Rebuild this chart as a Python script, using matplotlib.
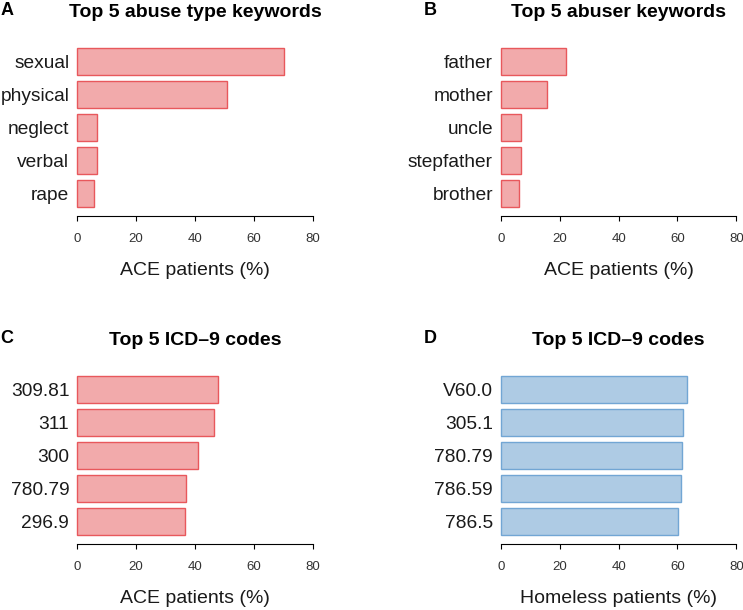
import numpy as np
import matplotlib
matplotlib.use("Agg")
import matplotlib.pyplot as plt

plt.rcParams['font.family'] = ['Liberation Sans', 'DejaVu Sans']

# data (percent of patients)
abuse_types = ['sexual', 'physical', 'neglect', 'verbal', 'rape']
abuse_type_pct = [70.2, 50.8, 6.6, 6.7, 5.7]

abusers = ['father', 'mother', 'uncle', 'stepfather', 'brother']
abuser_pct = [22.0, 15.5, 6.7, 6.8, 6.0]

ace_codes = ['309.81', '311', '300', '780.79', '296.9']
ace_code_pct = [47.9, 46.6, 40.9, 37.1, 36.7]

homeless_codes = ['V60.0', '305.1', '780.79', '786.59', '786.5']
homeless_code_pct = [63.1, 61.8, 61.5, 61.3, 60.1]

W, H = 743, 610
fig = plt.figure(figsize=(W / 100, H / 100), dpi=100)

red_fill, red_edge = '#F2AAAB', '#E8585C'
blue_fill, blue_edge = '#AECBE4', '#72A6D4'

unit = 27.5  # px per bar unit (R barplot, space = 0.2)


def panel(x0, top, labels, values, fill, edge, title, xlabel, letter, letter_x):
    # axes: x from 0..80, bottom spine at top + 175.6 px
    y_lo, y_hi = -0.13, 6.24
    h = (y_hi - y_lo) * unit
    w = 235.3
    ax = fig.add_axes([x0 / W, 1 - (top + h) / H, w / W, h / H])
    n = len(values)
    ypos = 0.7 + 1.2 * np.arange(n)[::-1]
    ax.barh(ypos, values, height=1.0, color=fill, edgecolor=edge,
            linewidth=1.0, clip_on=False)
    ax.set_xlim(0, 80)
    ax.set_ylim(y_lo, y_hi)
    for s in ['top', 'right', 'left']:
        ax.spines[s].set_visible(False)
    ax.spines['bottom'].set_bounds(0, 80)
    ax.spines['bottom'].set_linewidth(0.8)
    ax.set_xticks([0, 20, 40, 60, 80])
    ax.tick_params(axis='x', length=3.6, width=0.8, pad=8.5,
                   labelsize=9.5, labelcolor='#333333')
    ax.set_yticks(ypos)
    ax.set_yticklabels(labels, fontsize=13.8, color='#1a1a1a')
    ax.tick_params(axis='y', length=0, pad=5.8)
    ax.patch.set_visible(False)

    cx = (x0 + w / 2) / W
    fig.text(cx, 1 - (top - 24) / H, title, ha='center', va='baseline',
             fontsize=14, fontweight='bold')
    fig.text(cx, 1 - (top + h + 59) / H, xlabel, ha='center', va='baseline',
             fontsize=14, color='#1a1a1a')
    fig.text(letter_x / W, 1 - (top - 26) / H, letter, ha='left',
             va='baseline', fontsize=13, fontweight='bold')
    return ax


panel(77.3, 41.1, abuse_types, abuse_type_pct, red_fill, red_edge,
      'Top 5 abuse type keywords', 'ACE patients (%)', 'A', 0.5)
panel(501, 41.1, abusers, abuser_pct, red_fill, red_edge,
      'Top 5 abuser keywords', 'ACE patients (%)', 'B', 423.5)
panel(77.3, 369.1, ace_codes, ace_code_pct, red_fill, red_edge,
      'Top 5 ICD\u20139 codes', 'ACE patients (%)', 'C', 0.5)
panel(501, 369.1, homeless_codes, homeless_code_pct, blue_fill, blue_edge,
      'Top 5 ICD\u20139 codes', 'Homeless patients (%)', 'D', 423.5)

plt.savefig('out.png', dpi=100)
